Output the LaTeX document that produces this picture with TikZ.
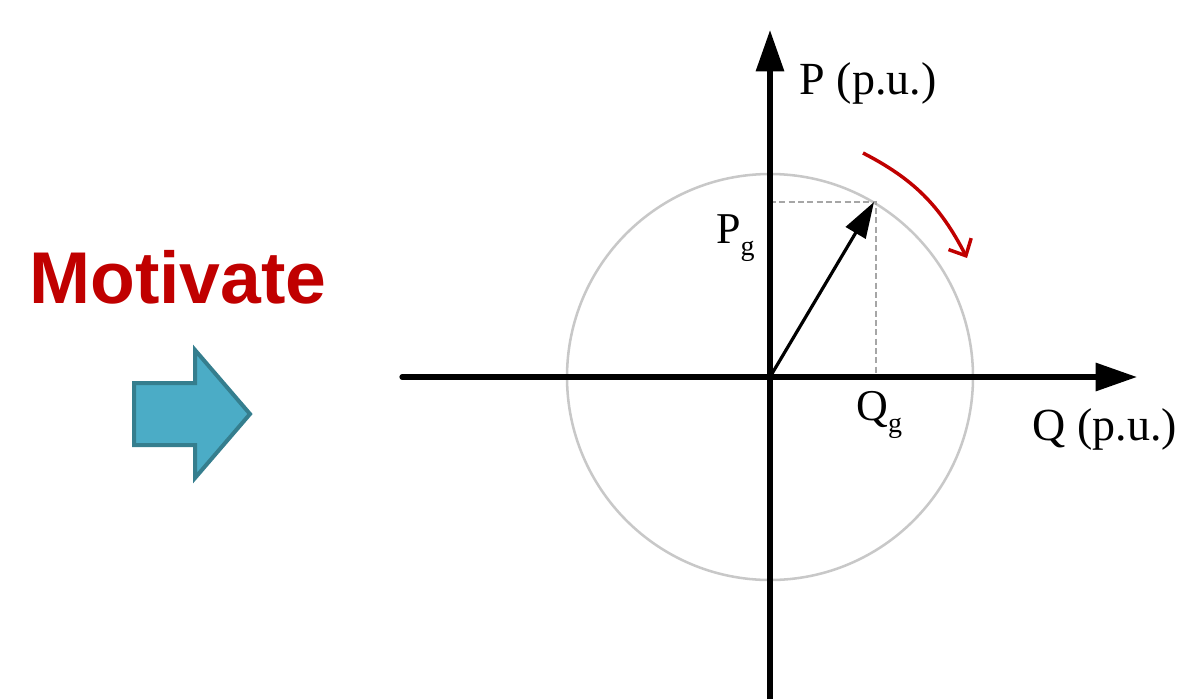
\documentclass[tikz,border=0pt]{standalone}
\usepackage{fontspec}
\setmainfont{Liberation Serif}
\newfontfamily\arialfont{Liberation Sans}
\usetikzlibrary{arrows.meta,bending}
\definecolor{motred}{HTML}{C00000}
\definecolor{blockfill}{HTML}{4BACC6}
\definecolor{blockline}{HTML}{357E8E}
\definecolor{circgray}{HTML}{C8C8C8}
\definecolor{dashgray}{HTML}{A6A6A6}
\tikzset{
  axisline/.style={line width=3.9pt, -{Triangle[length=31pt,width=20.5pt]}},
  vecline/.style={line width=2.4pt, -{Triangle[length=27pt,width=17pt]}},
  dashline/.style={dashgray, line width=2.1pt, dash pattern=on 4.5pt off 2.5pt},
  rotarrow/.style={motred, line width=2.6pt, -{Straight Barb[length=10pt,width=19pt,line width=2.6pt]}},
  lbl/.style={inner sep=0pt, font=\fontsize{34.5}{38}\selectfont},
  sublbl/.style={inner sep=0pt, font=\fontsize{33}{36}\selectfont},
}
\newcommand{\subg}{\raisebox{-0.28em}{\fontsize{21}{22}\selectfont g}}
\begin{document}
\begin{tikzpicture}[x=0.75pt,y=-0.75pt]
\useasboundingbox (0,0) rectangle (1180,699);
% left part
\node[inner sep=0pt, anchor=base, text=motred, font=\arialfont\bfseries\fontsize{55}{60}\selectfont] (mot) at (178,303) {Motivate};
\draw[fill=blockfill, draw=blockline, line width=3pt, line join=miter]
  (134,383) -- (195,383) -- (195,350) -- (250,414) -- (195,478) -- (195,445) -- (134,445) -- cycle;
% axes
\coordinate (O) at (770,377);
\coordinate (xl) at (402,377);
\coordinate (xr) at (1137,377);
\coordinate (yb) at (770,699);
\coordinate (yt) at (770,30);
\draw[circgray, line width=1.9pt] (O) circle[radius=203];
\coordinate (V) at (874,202);
\coordinate (Vp) at (770,202);
\coordinate (Vq) at (876,377);
\coordinate (Vt) at (876,202);
\draw[dashline] (Vp) -- (Vt) -- (Vq);
\draw[axisline, line cap=round] (xl) -- (xr);
\draw[axisline] (yb) -- (yt);
\draw[vecline] (O) -- (V);
\coordinate (ra) at (863,153);
\coordinate (rb) at (967,258);
\draw[rotarrow] (ra) to[bend left=18] (rb);
% labels
\node[lbl, anchor=base] (plab) at (868,94) {P (p.u.)};
\node[lbl, anchor=base] (qlab) at (1105,440) {Q (p.u.)};
\node[sublbl, anchor=base west] (pg) at (716,243) {P\subg};
\node[sublbl, anchor=base west] (qg) at (856,420) {Q\subg};
\end{tikzpicture}
\end{document}
